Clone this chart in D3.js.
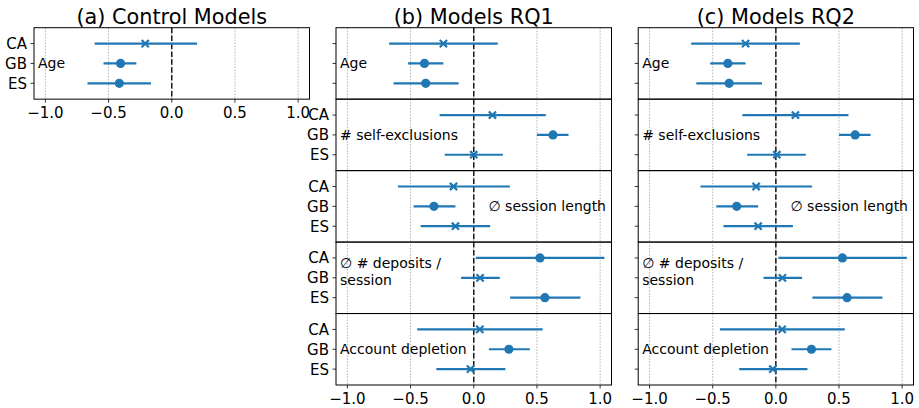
<!DOCTYPE html>
<html>
<head>
<meta charset="utf-8">
<script src="https://cdn.jsdelivr.net/npm/d3@7"></script>
<style>
  html, body { margin: 0; padding: 0; background: #fff; }
  svg { display: block; font-family: "DejaVu Sans", sans-serif; }
</style>
</head>
<body>
<svg id="chart" width="919" height="408"></svg>
<script>
// ---------------- DATA ----------------
const countries = ["CA", "GB", "ES"];
const panelTitles = ["(a) Control Models", "(b) Models RQ1", "(c) Models RQ2"];
const features = ["Age", "# self-exclusions", "∅ session length", "∅ # deposits /\nsession", "Account depletion"];
const xTicks = [-1.0, -0.5, 0.0, 0.5, 1.0];
const xTickLabels = ["−1.0", "−0.5", "0.0", "0.5", "1.0"];

// Control model (Age only): estimate, lower CI, upper CI for CA, GB, ES
const controlEst = [-0.21, -0.405, -0.415];
const controlLo  = [-0.61, -0.54, -0.667];
const controlHi  = [0.20, -0.28, -0.164];

// Models RQ1: rows = features, cols = CA, GB, ES
const rq1Est = [
  [-0.24, -0.39, -0.38],
  [0.148, 0.627, 0.0],
  [-0.16, -0.315, -0.145],
  [0.524, 0.05, 0.563],
  [0.048, 0.278, -0.026]
];
const rq1Lo = [
  [-0.67, -0.52, -0.635],
  [-0.27, 0.50, -0.23],
  [-0.60, -0.476, -0.42],
  [0.016, -0.10, 0.288],
  [-0.447, 0.12, -0.296]
];
const rq1Hi = [
  [0.19, -0.24, -0.12],
  [0.57, 0.75, 0.23],
  [0.286, -0.145, 0.13],
  [1.034, 0.206, 0.844],
  [0.545, 0.444, 0.25]
];

// Models RQ2
const rq2Est = [
  [-0.24, -0.38, -0.37],
  [0.155, 0.628, 0.008],
  [-0.156, -0.31, -0.14],
  [0.527, 0.052, 0.564],
  [0.05, 0.282, -0.024]
];
const rq2Lo = [
  [-0.67, -0.52, -0.63],
  [-0.265, 0.50, -0.227],
  [-0.597, -0.472, -0.415],
  [0.02, -0.098, 0.29],
  [-0.443, 0.124, -0.29]
];
const rq2Hi = [
  [0.19, -0.24, -0.11],
  [0.575, 0.75, 0.237],
  [0.287, -0.14, 0.135],
  [1.037, 0.208, 0.844],
  [0.546, 0.44, 0.25]
];

// ---------------- LAYOUT ----------------
const svg = d3.select("#chart");
const blue = "#1f77b4";
const top0 = 27.7, rowH = 71.46;
const panels = [
  { left: 34, right: 309.5, rows: 1, est: [controlEst], lo: [controlLo], hi: [controlHi], ylabels: [true] },
  { left: 336, right: 611.5, rows: 5, est: rq1Est, lo: rq1Lo, hi: rq1Hi, ylabels: [false, true, true, true, true] },
  { left: 638.2, right: 913.5, rows: 5, est: rq2Est, lo: rq2Lo, hi: rq2Hi, ylabels: [false, false, false, false, false] }
];
const annoAlign = ["start", "start", "end", "start", "start"];

panels.forEach((p, pi) => {
  const x = d3.scaleLinear().domain([-1.09, 1.09]).range([p.left, p.right]);
  const g = svg.append("g");

  g.append("text")
    .attr("x", (p.left + p.right) / 2).attr("y", 24.3)
    .attr("text-anchor", "middle")
    .attr("font-size", 20.8).attr("fill", "#000")
    .text(panelTitles[pi]);

  for (let r = 0; r < p.rows; r++) {
    const t = top0 + r * rowH, b = t + rowH;
    const yl = d3.scaleLinear().domain([-0.8, 2.8]).range([t, b]);
    const yPos = c => yl(countries.indexOf(c));
    const rg = g.append("g");

    rg.selectAll("line.grid").data(xTicks).join("line")
      .attr("x1", d => x(d)).attr("x2", d => x(d))
      .attr("y1", t).attr("y2", b)
      .attr("stroke", "#b0b0b0").attr("stroke-width", 1)
      .attr("stroke-dasharray", "1.5,1.5");

    rg.append("line")
      .attr("x1", x(0)).attr("x2", x(0)).attr("y1", t).attr("y2", b)
      .attr("stroke", "#1a1a1a").attr("stroke-width", 1.5)
      .attr("stroke-dasharray", "5.5,2.4");

    rg.selectAll("line.yt").data(countries).join("line")
      .attr("x1", p.left - 3.5).attr("x2", p.left)
      .attr("y1", d => yPos(d)).attr("y2", d => yPos(d))
      .attr("stroke", "#000").attr("stroke-width", 0.8);
    if (p.ylabels[r]) {
      rg.selectAll("text.yl").data(countries).join("text")
        .attr("x", p.left - 7).attr("y", d => yPos(d)).attr("dy", "0.36em")
        .attr("text-anchor", "end").attr("font-size", 15).attr("fill", "#000")
        .text(d => d);
    }

    const rows = countries.map((c, i) => ({ c, est: p.est[r][i], lo: p.lo[r][i], hi: p.hi[r][i] }));
    rg.selectAll("line.ci").data(rows).join("line")
      .attr("x1", d => x(d.lo)).attr("x2", d => x(d.hi))
      .attr("y1", d => yPos(d.c)).attr("y2", d => yPos(d.c))
      .attr("stroke", blue).attr("stroke-width", 2.2);
    rows.forEach(d => {
      const cx = x(d.est), cy = yPos(d.c);
      const sig = d.lo > 0 || d.hi < 0;
      if (sig) {
        rg.append("circle").attr("cx", cx).attr("cy", cy).attr("r", 4.6).attr("fill", blue);
      } else {
        const s = 3.6;
        rg.append("path")
          .attr("d", `M${cx - s},${cy - s}L${cx + s},${cy + s}M${cx - s},${cy + s}L${cx + s},${cy - s}`)
          .attr("stroke", blue).attr("stroke-width", 2.2).attr("fill", "none");
      }
    });

    const fi = pi === 0 ? 0 : r;
    const lines = features[fi].split("\n");
    const anchor = annoAlign[fi];
    const ax = anchor === "start" ? p.left + 4 : p.right - 5.5;
    if (lines.length === 1) {
      rg.append("text")
        .attr("x", ax).attr("y", yPos("GB")).attr("dy", "0.36em")
        .attr("text-anchor", anchor).attr("font-size", 14).attr("fill", "#000")
        .text(lines[0]);
    } else {
      const mid = yl(0.68);
      lines.forEach((ln, li) => {
        rg.append("text")
          .attr("x", ax).attr("y", mid + (li - (lines.length - 1) / 2) * 16.6).attr("dy", "0.36em")
          .attr("text-anchor", anchor).attr("font-size", 14).attr("fill", "#000")
          .text(ln);
      });
    }

    rg.append("rect")
      .attr("x", p.left).attr("y", t).attr("width", p.right - p.left).attr("height", rowH)
      .attr("fill", "none").attr("stroke", "#000").attr("stroke-width", 1);
  }

  const bottom = top0 + p.rows * rowH;
  g.selectAll("line.xt").data(xTicks).join("line")
    .attr("x1", d => x(d)).attr("x2", d => x(d))
    .attr("y1", bottom).attr("y2", bottom + 3.5)
    .attr("stroke", "#000").attr("stroke-width", 0.8);
  g.selectAll("text.xl").data(xTicks).join("text")
    .attr("x", d => x(d)).attr("y", bottom + 18.9)
    .attr("text-anchor", "middle").attr("font-size", 15).attr("fill", "#000")
    .text((d, i) => xTickLabels[i]);
});
</script>
</body>
</html>
